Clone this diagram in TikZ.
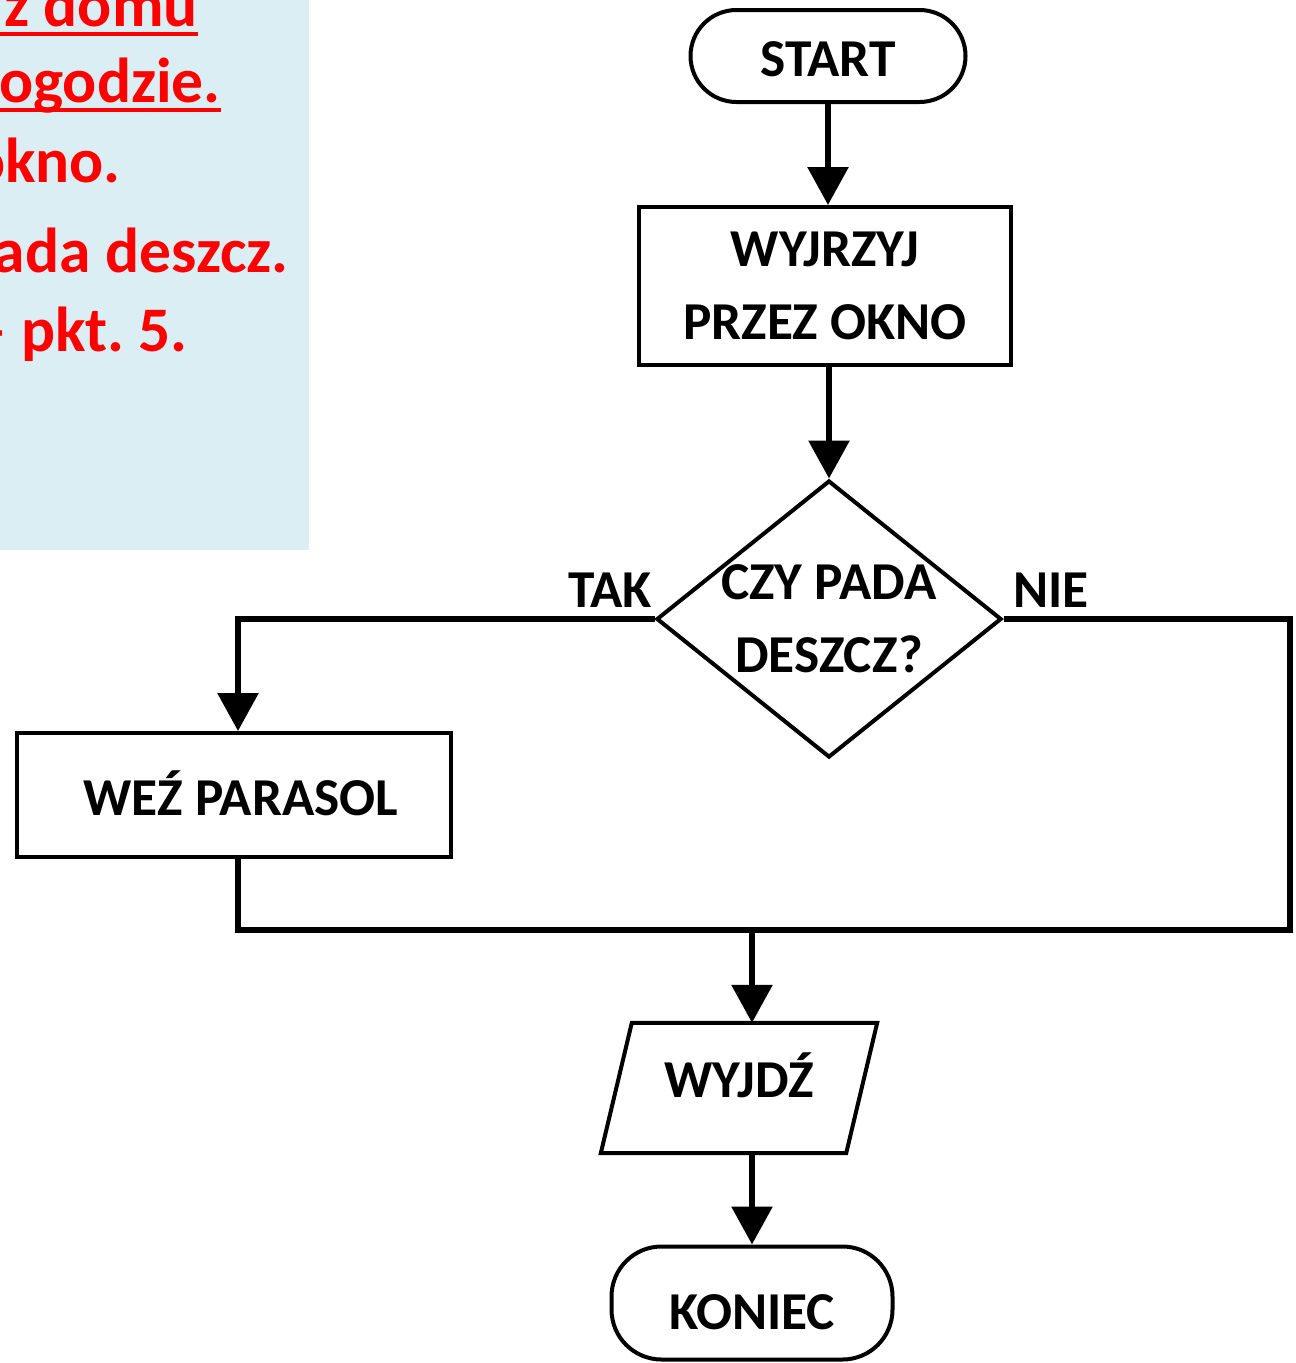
\documentclass[tikz,border=0pt]{standalone}
\usepackage{fontspec}
\setmainfont{Carlito}
\usetikzlibrary{shapes.geometric,arrows.meta,calc}
\definecolor{noteblue}{HTML}{DAEEF3}
\definecolor{notered}{HTML}{FF0000}
\frenchspacing

\begin{document}
\begin{tikzpicture}[x=1pt,y=-1pt,
  every node/.style={font=\bfseries\fontsize{53.3}{73}\selectfont, inner sep=0pt, align=center},
  box/.style={draw, line width=4pt, rectangle},
  term/.style={draw, line width=4pt, rectangle, rounded corners=46pt},
  outline/.style={draw, line width=4pt},
  flow/.style={line width=6pt},
  arr/.style={flow, -{Triangle[width=40pt,length=38pt]}},
  note/.style={text=notered, font=\bfseries\fontsize{63.5}{72}\selectfont, anchor=base east},
  uline/.style={draw=notered, line width=4pt},
]
\useasboundingbox (0,0) rectangle (1296,1363);

% instruction panel (left)
\fill[noteblue] (0,0) rectangle (309,550);
\begin{scope}
  \clip (0,0) rectangle (309,550);
  \node[note] (n1) at (198,26) {z domu};
  \node[note] (n2) at (221,102) {ogodzie.};
  \node[note] (n3) at (121,182) {okno.};
  \node[note] (n4) at (289,272) {ada deszcz.};
  \node[note] (n5) at (188,351) {– pkt. 5.};
  \draw[uline] (0,34) -- (n1.east |- 0,34);
  \draw[uline] (0,110) -- (n2.east |- 0,110);
\end{scope}

% flowchart
\node[term, minimum width=275pt, minimum height=92pt, text height=41pt] (start) at (828,56) {START};
\node[box, minimum width=372pt, minimum height=158pt] (look) at (825,286) {WYJRZYJ\\PRZEZ OKNO};
\node[diamond, outline, minimum width=345pt, minimum height=277pt] (dec) at (829,619) {};
\node (dectext) at (dec.center) {CZY PADA\\DESZCZ?};
\node[anchor=base east] (tak) at (652,607) {TAK};
\node[anchor=base west] (nie) at (1013,607) {NIE};
\node[box, minimum width=434pt, minimum height=124pt, text height=41pt] (umb) at (234,795) {\hspace*{14pt}WEŹ PARASOL};

% output block: a parallelogram around the text node
\node[minimum width=276pt, minimum height=130pt, text height=20pt] (go) at (739,1088) {WYJDŹ};
\draw[outline] (go.south west) -- ($(go.north west)+(31,0)$) -- (go.north east)
  -- ($(go.south east)+(-31,0)$) -- cycle;

\node[term, rounded corners=50pt, minimum width=281pt, minimum height=113pt, text height=54pt] (end) at (752,1303) {KONIEC};

\coordinate (j) at (752,930);
\coordinate (r) at (1290,619);

\draw[arr] (start.south) -- (start.south |- look.north);
\draw[arr] (look.south -| dec.north) -- (dec.north);
\draw[arr] (dec.west) -| ($(umb.north)+(4,0)$);
\draw[flow] ($(umb.south)+(4,0)$) |- (j);
\draw[flow] (dec.east) -- (r) |- (j);
\draw[arr] (j) -- (j |- go.north);
\draw[arr] (j |- go.south) -- (end.north);
\end{tikzpicture}
\end{document}
